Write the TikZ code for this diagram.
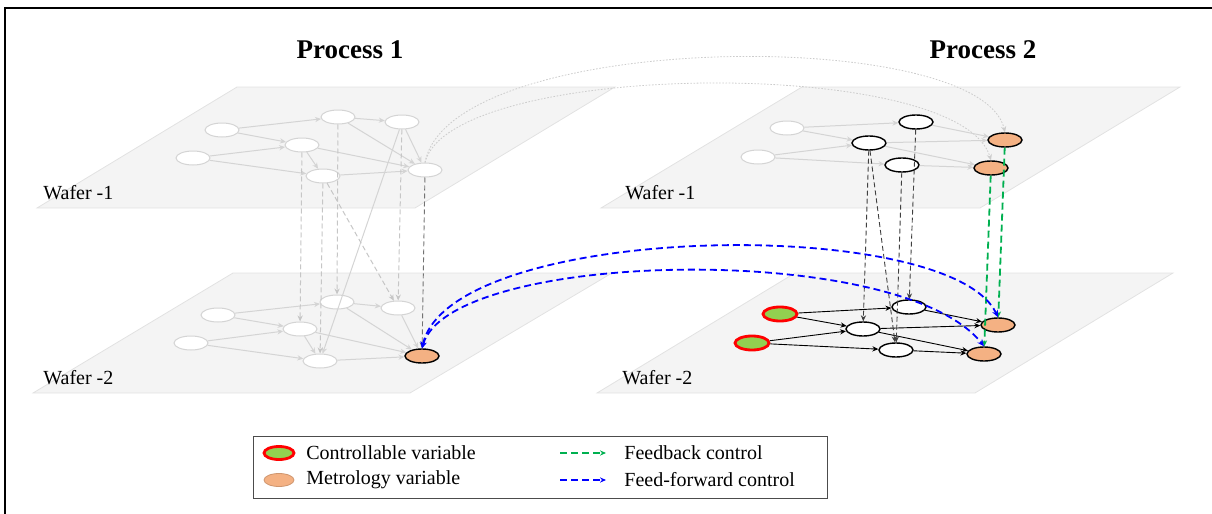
\documentclass[tikz,border=0pt]{standalone}
\usepackage{fontspec}
\setmainfont{Liberation Serif}
\usetikzlibrary{arrows.meta,shapes.geometric}
\definecolor{planefill}{HTML}{F4F4F4}
\definecolor{planeedge}{HTML}{E2E2E2}
\definecolor{faint}{HTML}{D4D4D4}
\definecolor{orangefill}{HTML}{F4B183}
\definecolor{greenfill}{HTML}{92D050}
\definecolor{fbgreen}{HTML}{00B050}
\definecolor{ffblue}{HTML}{0000FF}
\begin{document}
\begin{tikzpicture}[x=0.5pt,y=-0.5pt,
 plane/.style={fill=planefill,draw=planeedge,line width=0.4pt},
 vnode/.style={ellipse,minimum width=17pt,minimum height=7pt,inner sep=0pt},
 fnode/.style={vnode,fill=white,draw=faint,line width=0.5pt},
 bnode/.style={vnode,fill=white,draw=black,line width=0.7pt},
 onode/.style={vnode,fill=orangefill,draw=black,line width=0.7pt},
 cnode/.style={vnode,fill=greenfill,draw=red,line width=1.4pt},
 tip/.style={-{Stealth[length=3pt,width=2.6pt]}},
 fedge/.style={tip,draw=faint,line width=0.5pt},
 bedge/.style={tip,draw=black,line width=0.45pt},
 fdash/.style={tip,draw=gray!45,line width=0.5pt,dash pattern=on 2.5pt off 1.5pt},
 ddash/.style={tip,draw=black!75,line width=0.45pt,dash pattern=on 2.5pt off 1.5pt},
 gdash/.style={tip,draw=fbgreen,line width=0.9pt,dash pattern=on 3.5pt off 2pt},
 bdash/.style={{Stealth[length=3.2pt,width=3pt]}-{Stealth[length=3.5pt,width=3pt]},draw=ffblue,line width=0.9pt,dash pattern=on 3.5pt off 2pt},
 bleg/.style={tip,draw=ffblue,line width=0.9pt,dash pattern=on 3.5pt off 2pt},
 dotc/.style={tip,draw=gray!40,line width=0.4pt,dash pattern=on 0.8pt off 0.8pt},
 wlabel/.style={font=\fontsize{10}{12}\selectfont,anchor=west,inner sep=0pt},
 ttl/.style={font=\fontsize{13.5}{16}\selectfont\bfseries},
 legtext/.style={font=\fontsize{10}{12}\selectfont,anchor=west,inner sep=0pt},
 ]
\useasboundingbox (0,0) rectangle (1212,514);
% frame
\draw[line width=0.8pt] (5,514) -- (5,8) -- (1212,8);

% titles
\node[ttl] (t1) at (350,50) {Process 1};
\node[ttl] (t2) at (983,50) {Process 2};

% planes
\draw[plane] (37,208) -- (237,87) -- (615,87) -- (415,208) -- cycle;
\draw[plane] (33,393) -- (233,273) -- (612,273) -- (410,393) -- cycle;
\draw[plane] (601,208) -- (802,87) -- (1180,87) -- (980,208) -- cycle;
\draw[plane] (597,393) -- (795,273) -- (1173,273) -- (975,393) -- cycle;

\node[wlabel] (w1) at (43,193) {Wafer -1};
\node[wlabel] (w2) at (43,378) {Wafer -2};
\node[wlabel] (w3) at (625,193) {Wafer -1};
\node[wlabel] (w4) at (622,378) {Wafer -2};

% Process 1, wafer 1
\node[fnode] (A1) at (222,130) {};
\node[fnode] (A2) at (193,158) {};
\node[fnode] (B1) at (338,117) {};
\node[fnode] (B2) at (302,145) {};
\node[fnode] (B3) at (323,176) {};
\node[fnode] (C1) at (402,122) {};
\node[fnode] (C2) at (425,170) {};
% Process 1, wafer 2
\node[fnode] (P1) at (218,315) {};
\node[fnode] (P2) at (191,343) {};
\node[fnode] (Q1) at (337,302) {};
\node[fnode] (Q2) at (300,329) {};
\node[fnode] (Q3) at (320,361) {};
\node[fnode] (R1) at (398,308) {};
\node[onode] (R2) at (422,356) {};
% Process 2, wafer 1
\node[fnode] (D1) at (787,128) {};
\node[fnode] (D2) at (758,157) {};
\node[bnode] (E1) at (916,122) {};
\node[bnode] (E2) at (869,143) {};
\node[bnode] (E3) at (902,165) {};
\node[onode] (F1) at (1005,140) {};
\node[onode] (F2) at (991,168) {};
% Process 2, wafer 2
\node[cnode] (K1) at (780,314) {};
\node[cnode] (K2) at (752,343) {};
\node[bnode] (M1) at (909,307) {};
\node[bnode] (M2) at (863,329) {};
\node[bnode] (M3) at (896,350) {};
\node[onode] (G1) at (998,325) {};
\node[onode] (G2) at (984,354) {};

% faint dotted curves between processes
\draw[dotc] (C2.north) .. controls (450,30) and (980,25) .. (F1.north);
\draw[dotc] (C2.north) .. controls (450,60) and (960,55) .. (F2.north);

% Process 1 edges
\foreach \a/\b in {A1/B1,A1/B2,A2/B2,A2/B3,B1/C1,B1/C2,B2/B3,B2/C2,B3/C2,C1/C2,
                   P1/Q1,P1/Q2,P2/Q2,P2/Q3,Q1/R1,Q1/R2,Q2/Q3,Q2/R2,Q3/R2,R1/R2}
  \draw[fedge] (\a) -- (\b);
\draw[fedge] (C1) -- (Q3);
\foreach \a/\b in {B1/Q1,B2/Q2,B3/Q3,C1/R1,B3/R1}
  \draw[fdash] (\a) -- (\b);
\draw[ddash,draw=black!55] (C2) -- (R2);

% Process 2 edges
\foreach \a/\b in {D1/E1,D1/E2,D2/E2,D2/E3,E1/F1,E2/F1,E2/F2,E3/F2}
  \draw[fedge] (\a) -- (\b);
\foreach \a/\b in {K1/M1,K1/M2,K2/M2,K2/M3,M1/G1,M2/G1,M2/G2,M3/G2}
  \draw[bedge] (\a) -- (\b);
\foreach \a/\b in {E1/M1,E2/M2,E2/M3,E3/M3}
  \draw[ddash] (\a) -- (\b);
\draw[gdash] (F1) -- (G1);
\draw[gdash] (F2) -- (G2);

% feed-forward
\draw[bdash] (R2.north) .. controls (450,222) and (950,214) .. (G1.north);
\draw[bdash] (R2.north) .. controls (450,250) and (900,240) .. (G2.north);

% legend
\draw[draw=black!70,line width=0.5pt] (253,436) rectangle (827,498);
\node[vnode,minimum width=15pt,minimum height=6.5pt,fill=greenfill,draw=red,line width=1.4pt] (lg1) at (279,453) {};
\node[vnode,minimum width=15pt,minimum height=6.5pt,fill=orangefill,draw=orangefill!85!black,line width=0.4pt] (lg2) at (279,480) {};
\node[legtext] (lt1) at (306,453) {Controllable variable};
\node[legtext] (lt2) at (306,480) {Metrology variable};
\coordinate (fa) at (560,453);
\coordinate (fb) at (606,453);
\coordinate (ga) at (560,480);
\coordinate (gb) at (606,480);
\draw[gdash] (fa) -- (fb);
\draw[bleg] (ga) -- (gb);
\node[legtext] (lt3) at (624,453) {Feedback control};
\node[legtext] (lt4) at (624,480) {Feed-forward control};
\end{tikzpicture}
\end{document}
